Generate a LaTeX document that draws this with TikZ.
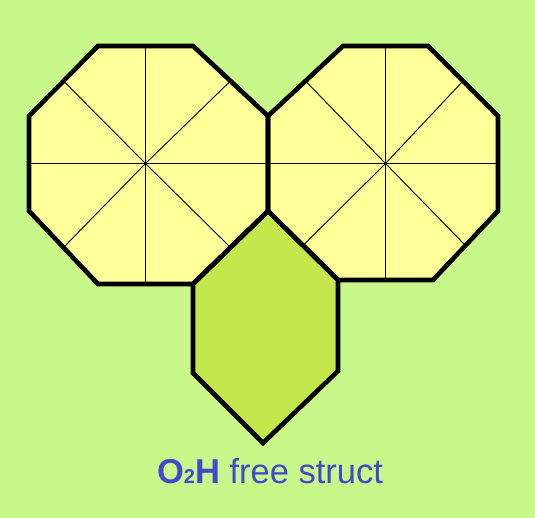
\documentclass[tikz,border=0pt]{standalone}
\usepackage{fontspec}
\setmainfont{Liberation Sans}
\usetikzlibrary{calc}
\definecolor{bg_green}{RGB}{200,248,138}
\definecolor{oct_yellow}{RGB}{255,255,153}
\definecolor{hex_green}{RGB}{196,232,76}
\definecolor{title_blue}{RGB}{68,72,204}

\begin{document}
\begin{tikzpicture}
[
    x=1pt, y=-1pt,
    oct_face/.style={fill=oct_yellow},
    hex_face/.style={fill=hex_green},
    outline/.style={draw=black, line width=4.6pt, line join=miter},
    spoke/.style={draw=black, line width=0.9pt},
]
    \fill[bg_green] (0,0) rectangle (535,518) ;
    \useasboundingbox (0,0) rectangle (535,518) ;

    % left octagon
    \coordinate (l1) at (98,46) ;
    \coordinate (l2) at (193,46) ;
    \coordinate (l3) at (268,116) ;
    \coordinate (l4) at (268,211) ;
    \coordinate (l5) at (193,284) ;
    \coordinate (l6) at (98,284) ;
    \coordinate (l7) at (29,211) ;
    \coordinate (l8) at (29,116) ;
    \coordinate (lc) at (145.5,163.5) ;
    % right octagon
    \coordinate (r1) at (343,46) ;
    \coordinate (r2) at (428,46) ;
    \coordinate (r3) at (498,116) ;
    \coordinate (r4) at (498,211) ;
    \coordinate (r5) at (433,280) ;
    \coordinate (r6) at (338,280) ;
    \coordinate (r7) at (268,211) ;
    \coordinate (r8) at (268,116) ;
    \coordinate (rc) at (385.5,163.5) ;
    % hexagon
    \coordinate (h1) at (268,211) ;
    \coordinate (h2) at (338,280) ;
    \coordinate (h3) at (338,371) ;
    \coordinate (h4) at (263,443) ;
    \coordinate (h5) at (193,373) ;
    \coordinate (h6) at (193,284) ;

    \path[oct_face] (l1) -- (l2) -- (l3) -- (l4) -- (l5) -- (l6) -- (l7) -- (l8) -- cycle ;
    \path[oct_face] (r1) -- (r2) -- (r3) -- (r4) -- (r5) -- (r6) -- (r7) -- (r8) -- cycle ;

    \foreach \o in {l, r} {
        \foreach \a/\b in {1/2, 2/3, 3/4, 4/5, 5/6, 6/7, 7/8, 8/1}
            \draw[spoke] (\o c) -- ($(\o\a)!0.5!(\o\b)$) ;
    }

    \path[hex_face] (h1) -- (h2) -- (h3) -- (h4) -- (h5) -- (h6) -- cycle ;

    \draw[outline] (l1) -- (l2) -- (l3) -- (l4) -- (l5) -- (l6) -- (l7) -- (l8) -- cycle ;
    \draw[outline] (r1) -- (r2) -- (r3) -- (r4) -- (r5) -- (r6) -- (r7) -- (r8) -- cycle ;
    \draw[outline] (h1) -- (h2) -- (h3) -- (h4) -- (h5) -- (h6) -- cycle ;

    \node[anchor=base, text=title_blue, font=\fontsize{34.5}{40}\selectfont] (title) at (270,483)
        {\textbf{O{\fontsize{20}{22}\selectfont 2}H} free struct} ;
\end{tikzpicture}
\end{document}
